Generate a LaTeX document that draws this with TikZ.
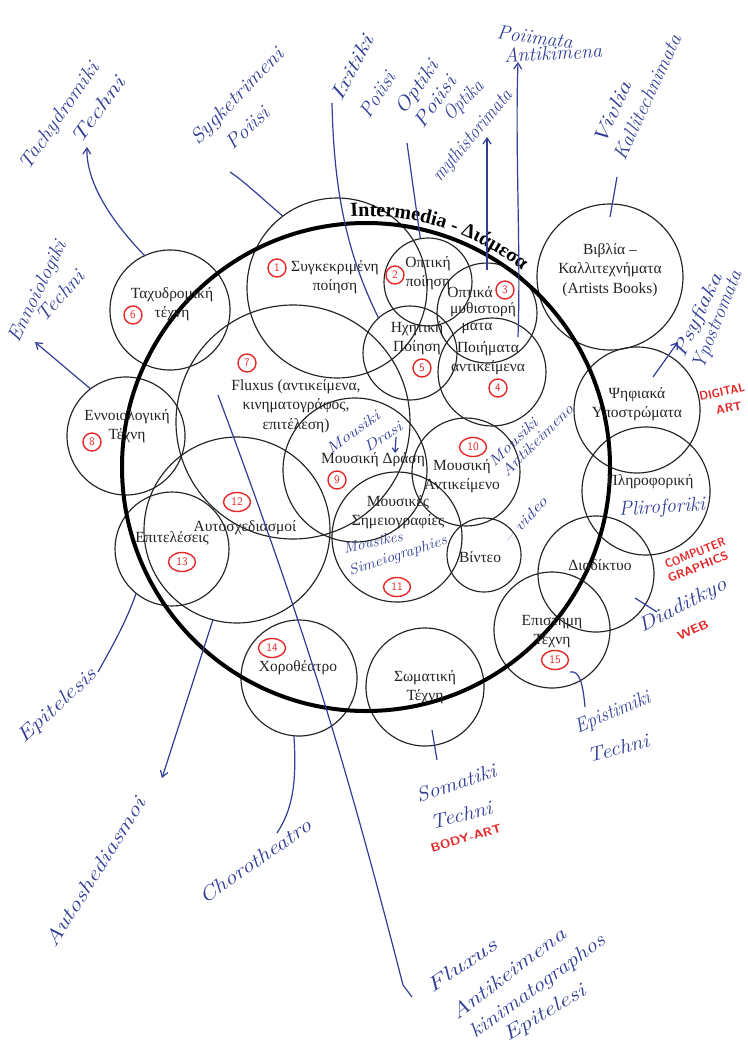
\documentclass[tikz,border=0pt]{standalone}
\usepackage{fontspec}
\usepackage{graphicx}
\usetikzlibrary{arrows.meta,shapes.geometric,decorations.text}
\newfontfamily\grserif{Liberation Serif}
\definecolor{pen}{RGB}{50,62,150}
\definecolor{redpen}{RGB}{228,40,40}
\definecolor{ink}{RGB}{35,35,35}
\tikzset{
  ring/.style={circle, draw=ink, line width=1.15pt, inner sep=0pt, outer sep=0pt, minimum size=#1},
  bigring/.style={circle, draw=black, line width=4pt, inner sep=0pt, outer sep=0pt, minimum size=#1},
  glab/.style={font=\grserif\fontsize{15.5}{19.5}\selectfont, text=ink, inner sep=0pt, align=center},
  rednum/.style={circle, draw=redpen, line width=1.4pt, text=redpen, font=\sffamily\fontsize{11.5}{11.5}\selectfont, inner sep=0pt, minimum size=18pt},
  rednumtwo/.style={ellipse, draw=redpen, line width=1.4pt, text=redpen, font=\sffamily\fontsize{11.5}{11.5}\selectfont, inner sep=0pt, minimum width=27pt, minimum height=19pt},
  hw/.style={text=pen, font=\itshape\fontsize{20}{20}\selectfont, inner sep=0pt},
  hwsmall/.style={text=pen, font=\itshape\fontsize{15}{15}\selectfont, inner sep=0pt},
  hwred/.style={text=redpen, font=\sffamily\bfseries\fontsize{12}{12}\selectfont, inner sep=0pt},
  penline/.style={draw=pen, line width=1.2pt},
  penarrow/.style={penline, -{Straight Barb[length=6pt,width=8pt]}},
}
\newcommand\hwnode[5]{\node[hw, rotate=#3] (#1) at (#2) {\resizebox{#4pt}{\height}{#5}};}
\newcommand\hwsnode[5]{\node[hwsmall, rotate=#3] (#1) at (#2) {\resizebox{#4pt}{\height}{#5}};}
\newcommand\rdnode[5]{\node[hwred, rotate=#3] (#1) at (#2) {\resizebox{#4pt}{\height}{#5}};}
\begin{document}
\begin{tikzpicture}[x=1pt,y=1pt]
\fill[white] (0,0) rectangle (747,-1046);
\useasboundingbox (0,0) rectangle (747,-1046);

% small circles
\node[ring=180pt] (c1) at (337,-288) {};
\node[ring=88pt]  (c2) at (428,-282) {};
\node[ring=100pt] (c3) at (487,-313) {};
\node[ring=108pt] (c4) at (492,-372) {};
\node[ring=94pt]  (c5) at (410,-353) {};
\node[ring=120pt] (c6) at (170,-310) {};
\node[ring=234pt] (c7) at (293,-422) {};
\node[ring=118pt] (c8) at (126,-436) {};
\node[ring=144pt] (c9) at (355,-470) {};
\node[ring=108pt] (c10) at (466,-472) {};
\node[ring=130pt] (c11) at (397,-537) {};
\node[ring=186pt] (c12) at (237,-530) {};
\node[ring=114pt] (c13) at (172,-549) {};
\node[ring=116pt] (c14) at (299,-678) {};
\node[ring=116pt] (c15) at (552,-630) {};
\node[ring=118pt] (cs) at (425,-687) {};
\node[ring=74pt]  (cv) at (484,-555) {};
\node[ring=146pt] (cb) at (610,-277) {};
\node[ring=126pt] (cp) at (637,-410) {};
\node[ring=128pt] (ci) at (646,-491) {};
\node[ring=116pt] (cd) at (596,-574) {};

% big circle
\node[bigring=488pt] (big) at (366,-467) {};
\path[decorate, decoration={text along path, text align=center,
  text={|\grserif\bfseries\fontsize{20}{20}\selectfont|Intermedia - Διάμεσα}}]
  (366,-467) ++(101:251pt) arc[start angle=101, end angle=44, radius=251pt];

% circle labels
\node[glab] (t1) at (335,-277) {Συγκεκριμένη\\ποίηση};
\node[glab] (t2) at (428,-273) {Οπτική\\ποίηση};
\node[glab] (t3a) at (470,-292) {Οπτικά};
\node[glab] (t3b) at (483,-310) {μυθιστορή};
\node[glab] (t3c) at (477,-328) {ματα};
\node[glab] (t5) at (417,-338) {Ηχητική\\Ποίηση};
\node[glab] (t4) at (488,-358) {Ποιήματα\\αντικείμενα};
\node[glab] (t6) at (172,-304) {Ταχυδρομική\\τέχνη};
\node[glab] (t7) at (296,-406) {Fluxus (αντικείμενα,\\κινηματογράφος,\\επιτέλεση)};
\node[glab] (t8) at (127,-426) {Εννοιολογική\\Τέχνη};
\node[glab] (t9) at (373,-460) {Μουσική Δράση};
\node[glab] (t10) at (462,-476) {Μουσική\\Αντικείμενο};
\node[glab] (t11) at (398,-512) {Μουσικές\\Σημειογραφίες};
\node[glab] (tv) at (480,-557) {Βίντεο};
\node[glab] (t12) at (245,-528) {Αυτοσχεδιασμοί};
\node[glab] (t13) at (172,-538) {Επιτελέσεις};
\node[glab] (t14) at (298,-668) {Χοροθέατρο};
\node[glab] (ts) at (425,-687) {Σωματική\\Τέχνη};
\node[glab] (t15) at (552,-631) {Επιστήμη\\Τέχνη};
\node[glab] (td) at (600,-565) {Διαδίκτυο};
\node[glab] (ti) at (650,-482) {Πληροφορική};
\node[glab] (tp) at (637,-404) {Ψηφιακά\\Υποστρώματα};
\node[glab] (tb) at (610,-270) {Βιβλία –\\Καλλιτεχνήματα\\(Artists Books)};

% red numbers
\node[rednum] (n1) at (277,-268) {1};
\node[rednum] (n2) at (395,-275) {2};
\node[rednum] (n3) at (505,-290) {3};
\node[rednum] (n4) at (498,-388) {4};
\node[rednum] (n5) at (422,-368) {5};
\node[rednum] (n6) at (133,-315) {6};
\node[rednum] (n7) at (247,-363) {7};
\node[rednum] (n8) at (92,-442) {8};
\node[rednum] (n9) at (337,-480) {9};
\node[rednumtwo] (n10) at (473,-447) {10};
\node[rednumtwo] (n11) at (397,-587) {11};
\node[rednumtwo] (n12) at (237,-502) {12};
\node[rednumtwo] (n13) at (182,-562) {13};
\node[rednumtwo] (n14) at (272,-648) {14};
\node[rednumtwo] (n15) at (555,-660) {15};

% handwritten labels
\hwnode{h1a}{60,-117}{55}{125}{Tachydromiki}
\hwnode{h1b}{98,-110}{54}{78}{Techni}
\hwnode{h2a}{238,-97}{46}{125}{Sygketrimeni}
\hwnode{h2b}{247,-128}{43}{52}{Poiisi}
\hwnode{h3a}{352,-68}{62}{72}{Ixitiki}
\hwnode{h3b}{377,-95}{57}{50}{Poiisi}
\hwnode{h4a}{418,-88}{55}{60}{Optiki}
\hwnode{h4b}{435,-102}{55}{58}{Poiisi}
\hwnode{h5a}{464,-101}{45}{48}{Optika}
\hwnode{h5b}{473,-136}{50}{113}{mythistorimata}
\hwnode{h6a}{535,-37}{-8}{76}{Poiimata}
\hwnode{h6b}{553,-53}{3}{98}{Antikimena}
\hwnode{h7a}{612,-113}{66}{68}{Vivlia}
\hwnode{h7b}{647,-97}{65}{135}{Kallitechnimata}
\hwnode{h8a}{38,-292}{64}{110}{Ennoiologiki}
\hwnode{h8b}{60,-296}{49}{62}{Techni}
\hwnode{h9a}{699,-316}{65}{90}{Psyfiaka}
\hwnode{h9b}{718,-320}{68}{104}{Ypostromata}
\rdnode{r9a}{722,-392}{12}{46}{DIGITAL}
\rdnode{r9b}{729,-408}{10}{26}{ART}
\hwsnode{h10a}{353,-432}{36}{62}{Mousiki}
\hwsnode{h10b}{383,-437}{33}{42}{Drasi}
\hwsnode{h11a}{513,-442}{44}{62}{Mousiki}
\hwsnode{h11b}{537,-440}{45}{95}{Antikeimeno}
\hwsnode{h12a}{373,-542}{12}{60}{Mousikes}
\hwsnode{h12b}{398,-556}{18}{102}{Simeiographies}
\hwsnode{h13}{525,-520}{48}{58}{– video}
\hwnode{h14}{662,-508}{4}{86}{Pliroforiki}
\rdnode{r15a}{695,-553}{22}{64}{COMPUTER}
\rdnode{r15b}{698,-567}{22}{64}{GRAPHICS}
\hwnode{h16}{683,-606}{27}{96}{Diaditkyo}
\rdnode{r16}{693,-630}{25}{33}{WEB}
\hwnode{h17a}{613,-713}{23}{80}{Epistimiki}
\hwnode{h17b}{618,-748}{15}{63}{Techni}
\hwnode{h18a}{456,-783}{18}{83}{Somatiki}
\hwnode{h18b}{461,-815}{14}{63}{Techni}
\rdnode{r18}{466,-838}{16}{73}{BODY-ART}
\hwnode{h19}{255,-861}{35}{132}{Chorotheatro}
\hwnode{h20}{95,-872}{58}{172}{Autoshediasmoi}
\hwnode{h21}{58,-706}{43}{100}{Epitelesis}
\hwnode{h22a}{462,-965}{34}{80}{Fluxus}
\hwnode{h22b}{508,-973}{37}{138}{Antikeimena}
\hwnode{h22c}{538,-987}{36}{162}{kinimatographos}
\hwnode{h22d}{545,-1014}{31}{92}{Epitelesi}

% connector ends
\coordinate (e1) at (87,-147);
\coordinate (e2) at (230,-172);
\coordinate (e3) at (332,-103);
\coordinate (e4) at (407,-143);
\coordinate (e5) at (487,-137);
\coordinate (s6) at (518,-337);
\coordinate (e6) at (518,-62);
\coordinate (e7) at (617,-177);
\coordinate (e8) at (35,-342);
\coordinate (s9) at (653,-377);
\coordinate (e9) at (678,-342);
\coordinate (s10) at (396,-437);
\coordinate (e10) at (395,-453);
\coordinate (s16) at (635,-598);
\coordinate (e16) at (657,-612);
\coordinate (s17) at (570,-672);
\coordinate (e17) at (585,-707);
\coordinate (s18) at (432,-730);
\coordinate (e18) at (437,-760);
\coordinate (e19) at (277,-833);
\coordinate (e20) at (162,-778);
\coordinate (e21) at (98,-672);
\coordinate (s22) at (218,-395);
\coordinate (m22) at (403,-985);
\coordinate (e22) at (412,-997);

% connectors
\draw[penarrow] (c6.115) .. controls (115,-225) and (86,-185) .. (e1);
\draw[penline] (c1.127) .. controls (258,-195) and (245,-182) .. (e2);
\draw[penline] (e3) .. controls (334,-200) and (350,-260) .. (c5.132);
\draw[penline] (e4) -- (c2.100);
\draw[penarrow] ([yshift=-7pt]c3.north) -- (e5);
\draw[penarrow] (s6) .. controls (521,-250) and (515,-150) .. (e6);
\draw[penline] ([yshift=-13pt]cb.north) -- (e7);
\draw[penarrow] (c8.127) -- (e8);
\draw[penarrow] (s9) -- (e9);
\draw[penline, -{Straight Barb[length=4pt,width=6pt]}] (s10) -- (e10);
\draw[penline] (s16) -- (e16);
\draw[penline] (s17) .. controls (580,-670) and (583,-685) .. (e17);
\draw[penline] (s18) -- (e18);
\draw[penline] (c14.265) .. controls (297,-785) and (292,-810) .. (e19);
\draw[penarrow] (c12.255) -- (e20);
\draw[penline] (c13.231) .. controls (125,-625) and (110,-650) .. (e21);
\draw[penline] (s22) to[bend left=3] (m22) -- (e22);
\end{tikzpicture}
\end{document}
